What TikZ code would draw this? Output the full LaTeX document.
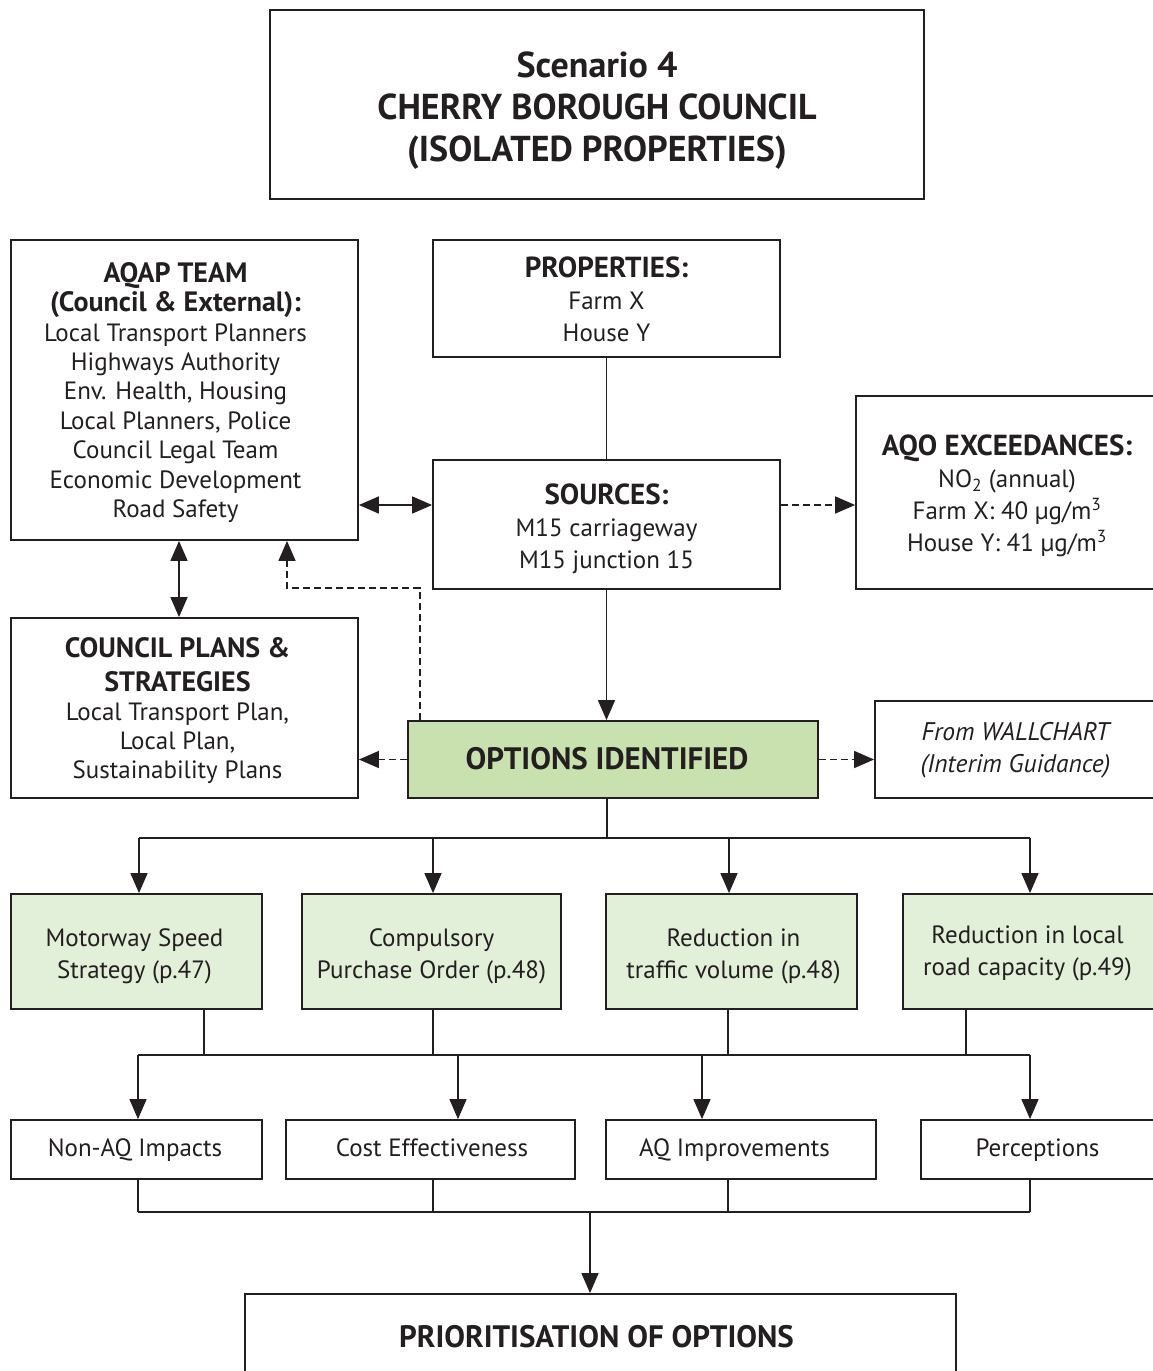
\documentclass[tikz,border=0pt]{standalone}
\usepackage{fontspec}
\setmainfont{PT Sans}
\usetikzlibrary{arrows.meta}
\definecolor{ink}{HTML}{231F20}
\definecolor{optgreen}{HTML}{C9E1AE}
\definecolor{lightgreen}{HTML}{E2EFD9}
\tikzset{
  box/.style={draw=ink, line width=1.8pt, inner sep=0pt, text=ink,
    font=\fontsize{25}{32}\selectfont},
  conn/.style={draw=ink, line width=1.5pt},
  arr/.style={conn, -{Triangle[length=20pt,width=17pt]}},
  darr/.style={conn, {Triangle[length=20pt,width=17pt]}-{Triangle[length=20pt,width=17pt]}},
  dashl/.style={conn, dash pattern=on 7pt off 4pt, -{Triangle[length=20pt,width=17pt]}}
}
\newcommand{\hb}[1]{{\fontsize{29}{32}\selectfont\bfseries #1}}
% #1 = shift right, #2 = shift down, #3 = lines
\newcommand{\sh}[3]{\raisebox{-#2}[\height][\depth]{\hspace*{#1}\begin{tabular}{@{}c@{}}#3\end{tabular}\hspace*{-#1}}}
\begin{document}
\begin{tikzpicture}[x=1pt,y=-1pt]
\useasboundingbox (0,0) rectangle (1152,1371);
% title
\node[box, minimum width=654pt, minimum height=189pt,
  font=\fontsize{36}{42}\selectfont\bfseries] (title) at (597,104.5)
  {\sh{0pt}{7pt}{Scenario 4\\CHERRY BOROUGH COUNCIL\\(ISOLATED PROPERTIES)}};
% AQAP team
\node[box, minimum width=347pt, minimum height=300pt,
  font=\fontsize{25}{29.4}\selectfont] (aqap) at (184.5,390)
  {\sh{-9pt}{4pt}{{\fontsize{28}{30}\selectfont\bfseries AQAP TEAM}\\{\fontsize{28}{30}\selectfont\bfseries (Council \& External):}\\Local Transport Planners\\Highways Authority\\Env. Health, Housing\\Local Planners, Police\\Council Legal Team\\Economic Development\\Road Safety}};
% properties
\node[box, minimum width=347pt, minimum height=117pt] (props) at (606.5,298.5)
  {\sh{0pt}{5pt}{\hb{PROPERTIES:}\\Farm X\\House Y}};
% sources
\node[box, minimum width=347pt, minimum height=129pt] (sources) at (606.5,524.5)
  {\sh{0pt}{6pt}{\hb{SOURCES:}\\M15 carriageway\\M15 junction 15}};
% AQO
\node[box, minimum width=302pt, minimum height=193pt] (aqo) at (1007,492.5)
  {\sh{0pt}{5pt}{\hb{AQO EXCEEDANCES:}\\NO\textsubscript{2} (annual)\\Farm X: 40 µg/m\textsuperscript{3}\\House Y: 41 µg/m\textsuperscript{3}}};
% council plans
\node[box, minimum width=347pt, minimum height=180pt,
  font=\fontsize{25}{29}\selectfont] (plans) at (184.5,708)
  {\sh{-7pt}{4pt}{{\fontsize{28}{30}\selectfont\bfseries COUNCIL PLANS \&}\\[5pt]{\fontsize{28}{30}\selectfont\bfseries STRATEGIES}\\Local Transport Plan,\\Local Plan,\\Sustainability Plans}};
% options identified
\node[box, fill=optgreen, minimum width=410pt, minimum height=77pt,
  font=\fontsize{31}{34}\selectfont\bfseries] (options) at (613,759.5)
  {\sh{-6pt}{3pt}{OPTIONS IDENTIFIED}};
% wallchart
\node[box, minimum width=285pt, minimum height=97pt,
  font=\fontsize{25.5}{32}\selectfont\itshape] (wall) at (1017.5,749.5)
  {\sh{-2pt}{1pt}{From WALLCHART\\(Interim Guidance)}};
% option boxes
\node[box, fill=lightgreen, minimum width=251pt, minimum height=115pt] (m1) at (136.5,951.5)
  {\sh{-2pt}{5pt}{Motorway Speed\\Strategy (p.47)}};
\node[box, fill=lightgreen, minimum width=259pt, minimum height=115pt] (m2) at (431.5,951.5)
  {\sh{0pt}{5pt}{Compulsory\\Purchase Order (p.48)}};
\node[box, fill=lightgreen, minimum width=251pt, minimum height=115pt] (m3) at (731.5,951.5)
  {\sh{2pt}{5pt}{Reduction in\\traffic volume (p.48)}};
\node[box, fill=lightgreen, minimum width=257pt, minimum height=115pt] (m4) at (1031.5,951.5)
  {\sh{-4pt}{2pt}{Reduction in local\\road capacity (p.49)}};
% criteria boxes
\node[box, minimum width=251pt, minimum height=59pt] (b1) at (136.5,1149.5) {\sh{-1.5pt}{1pt}{Non-AQ Impacts}};
\node[box, minimum width=289pt, minimum height=59pt] (b2) at (430.5,1149.5) {\sh{1.5pt}{1pt}{Cost Effectiveness}};
\node[box, minimum width=270pt, minimum height=59pt] (b3) at (741,1149.5) {\sh{-6.5pt}{1pt}{AQ Improvements}};
\node[box, minimum width=239pt, minimum height=59pt] (b4) at (1040.5,1149.5) {\sh{-3pt}{1pt}{Perceptions}};
% prioritisation
\node[box, minimum width=711pt, minimum height=86pt,
  font=\fontsize{31}{34}\selectfont\bfseries] (prio) at (600.5,1337)
  {\sh{-4pt}{4pt}{PRIORITISATION OF OPTIONS}};

% --- connectors, top part
\draw[conn] (props.south) -- (sources.north);
\draw[arr] (sources.south) -- (sources.south |- options.north);
\draw[darr] (aqap.east |- 0,505) -- (sources.west |- 0,505);
\draw[dashl] (sources.east |- 0,505) -- (aqo.west |- 0,505);
\draw[darr] (aqap.south -| 179,0) -- (plans.north -| 179,0);
\coordinate (d1) at (420,588);
\coordinate (d2) at (287,588);
\draw[dashl] (options.north -| d1) -- (d1) -- (d2) -- (aqap.south -| d2);
\draw[dashl] (options.west) -- (plans.east |- options.west);
\draw[dashl] (options.east) -- (wall.west |- options.east);

% --- tree to options
\coordinate (t0) at (607,838);
\coordinate (t1) at (139,838);
\coordinate (t2) at (433,838);
\coordinate (t3) at (729,838);
\coordinate (t4) at (1030,838);
\draw[conn] (options.south -| t0) -- (t0);
\draw[conn] (t1) -- (t4);
\draw[arr] (t1) -- (m1.north -| t1);
\draw[arr] (t2) -- (m2.north -| t2);
\draw[arr] (t3) -- (m3.north -| t3);
\draw[arr] (t4) -- (m4.north -| t4);

% --- from options to criteria
\coordinate (u1) at (204,1055);
\coordinate (u2) at (433,1055);
\coordinate (u3) at (728,1055);
\coordinate (u4) at (966,1055);
\coordinate (v1) at (138,1055);
\coordinate (v2) at (458,1055);
\coordinate (v3) at (702,1055);
\coordinate (v4) at (1030,1055);
\draw[conn] (m1.south -| u1) -- (u1);
\draw[conn] (m2.south -| u2) -- (u2);
\draw[conn] (m3.south -| u3) -- (u3);
\draw[conn] (m4.south -| u4) -- (u4);
\draw[conn] (v1) -- (v4);
\draw[arr] (v1) -- (b1.north -| v1);
\draw[arr] (v2) -- (b2.north -| v2);
\draw[arr] (v3) -- (b3.north -| v3);
\draw[arr] (v4) -- (b4.north -| v4);

% --- criteria to prioritisation
\coordinate (w1) at (138,1212);
\coordinate (w2) at (433,1212);
\coordinate (w3) at (728,1212);
\coordinate (w4) at (1030,1212);
\coordinate (w0) at (590,1212);
\draw[conn] (b1.south -| w1) -- (w1);
\draw[conn] (b2.south -| w2) -- (w2);
\draw[conn] (b3.south -| w3) -- (w3);
\draw[conn] (b4.south -| w4) -- (w4);
\draw[conn] (w1) -- (w4);
\draw[arr] (w0) -- (prio.north -| w0);
\end{tikzpicture}
\end{document}
